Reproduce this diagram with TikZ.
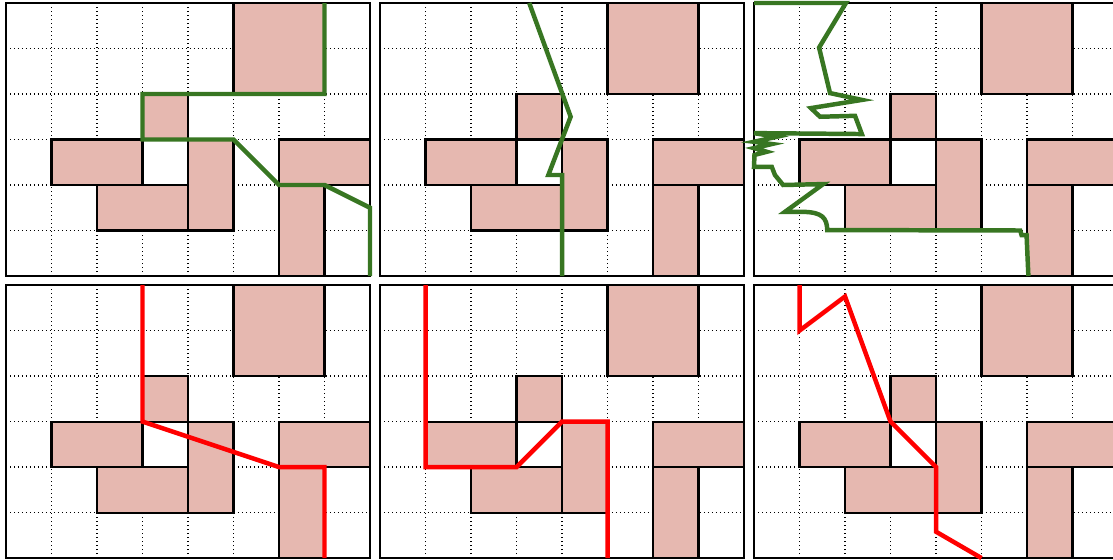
\documentclass[tikz,border=0pt]{standalone}
\usepackage{tikz}

\definecolor{obstfill}{RGB}{230,184,176}
\definecolor{routegreen}{RGB}{56,118,34}

\tikzset{
  gridline/.style={line width=0.9pt, dash pattern=on 0.9pt off 1.6pt},
  obst/.style={fill=obstfill, draw=black, line width=1.3pt},
  frame/.style={draw=black, line width=1.5pt},
  route/.style={routegreen, line width=2.8pt},
  shortest/.style={red, line width=2.8pt}
}

% one board: dotted grid, obstacles, frame
\newcommand{\board}{%
  \draw[gridline] (0,0) grid (8,6);
  \filldraw[obst] (5,0) rectangle (7,2);
  \filldraw[obst] (3,2) rectangle (4,3);
  \filldraw[obst] (1,3) rectangle (3,4);
  \filldraw[obst] (4,3) rectangle (5,5);
  \filldraw[obst] (2,4) rectangle (4,5);
  \filldraw[obst] (6,3) rectangle (8,4);
  \filldraw[obst] (6,4) rectangle (7,6);
  \draw[frame] (0,0) rectangle (8,6);
}

\begin{document}
\begin{tikzpicture}[x=1cm, y=-1cm]
\useasboundingbox (-0.132,-0.066) rectangle (24.33,12.24);
\clip (-0.132,-0.066) rectangle (24.33,12.24);

\foreach \c in {0,1,2} \foreach \r in {0,1} {
  \begin{scope}[shift={(8.22*\c,6.2*\r)}]
    \board
  \end{scope}
}

% top row: green routes
\draw[route] (7,0) -- (7,2) -- (3,2) -- (3,3) -- (5,3) -- (6,4) -- (7,4) -- (8,4.5) -- (8,6);
\begin{scope}[shift={(8.22,0)}]
\draw[route] (3.28,0) -- (4.19,2.5) -- (3.7,3.78) -- (4,3.78) -- (4,6);
\end{scope}
\begin{scope}[shift={(16.44,0)}]
\draw[route] (0,0) -- (2.02,0) -- (1.43,0.98) -- (1.67,1.98) -- (2.37,2.13) -- (1.25,2.31)
  -- (1.45,2.5) -- (2.22,2.48) -- (2.37,2.88) -- (0,2.86) -- (0.5,2.94) -- (0,3.05)
  -- (0.39,3.1) -- (0,3.19) -- (0.28,3.27) -- (0.01,3.34) -- (0,3.6) -- (0.39,3.6)
  -- (0.46,3.78) -- (0.64,4) -- (1.52,3.98) -- (0.68,4.59) -- (1.08,4.59)
  .. controls (1.5,4.6) and (1.6,4.72) .. (1.61,4.99) -- (5.85,5) -- (5.88,5.1)
  -- (5.99,5.1) -- (6.03,6);
\end{scope}

% bottom row: red routes
\begin{scope}[shift={(0,6.2)}]
\draw[shortest] (3,0) -- (3,3) -- (6,4) -- (7,4) -- (7,6);
\end{scope}
\begin{scope}[shift={(8.22,6.2)}]
\draw[shortest] (1,0) -- (1,4) -- (3,4) -- (4,3) -- (5,3) -- (5,6);
\end{scope}
\begin{scope}[shift={(16.44,6.2)}]
\draw[shortest] (1,0) -- (1,1) -- (2,0.25) -- (3,3) -- (4,4) -- (4,5.42) -- (5,6);
\end{scope}
\end{tikzpicture}
\end{document}
